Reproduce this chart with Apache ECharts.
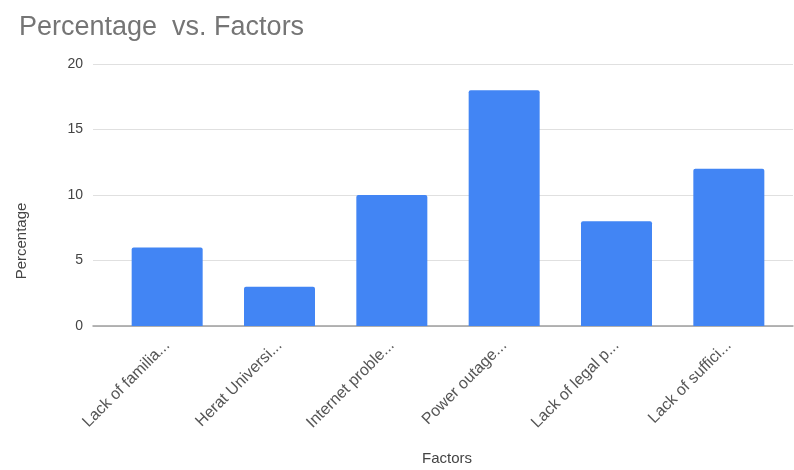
<!DOCTYPE html>
<html>
<head>
<meta charset="utf-8">
<script src="https://cdn.jsdelivr.net/npm/echarts@6/dist/echarts.min.js"></script>
<style>html,body{margin:0;padding:0;background:#fff}#c{width:794px;height:470px}</style>
</head>
<body>
<div id="c"></div>
<script>
const categories = ["Lack of familia...", "Herat Universi...", "Internet proble...", "Power outage...", "Lack of legal p...", "Lack of suffici..."];
const percentages = [6, 3, 10, 18, 8, 12];
const yTicks = { min: 0, max: 20, interval: 5 };

const FONT = "'Liberation Sans', Arial, sans-serif";
const chart = echarts.init(document.getElementById('c'), null, { renderer: 'canvas' });
chart.setOption({
  animation: false,
  backgroundColor: '#fff',
  title: {
    text: 'Percentage  vs. Factors',
    left: 14, top: 9,
    textStyle: { fontFamily: FONT, fontSize: 27, fontWeight: 'normal', color: '#757575' }
  },
  grid: [
    { left: 93, right: 1, top: 64, bottom: 144 },
    { left: 111, right: 9, top: 64, bottom: 144 }
  ],
  xAxis: [
    { type: 'category', gridIndex: 0, data: categories,
      axisLine: { lineStyle: { color: '#9e9e9e', width: 1.5 } },
      axisTick: { show: false }, axisLabel: { show: false } },
    { type: 'category', gridIndex: 1, data: categories,
      axisLine: { show: false }, axisTick: { show: false },
      axisLabel: { rotate: 45, margin: 17, fontFamily: FONT, fontSize: 16, color: '#555' } }
  ],
  yAxis: [
    { type: 'value', gridIndex: 0, min: yTicks.min, max: yTicks.max, interval: yTicks.interval,
      axisLine: { show: false }, axisTick: { show: false },
      axisLabel: { margin: 10, fontFamily: FONT, fontSize: 14, color: '#444' },
      splitLine: { lineStyle: { color: '#e0e0e0', width: 1 } } },
    { type: 'value', gridIndex: 1, min: yTicks.min, max: yTicks.max, interval: yTicks.interval,
      show: false, splitLine: { show: false } }
  ],
  series: [{
    type: 'bar', xAxisIndex: 1, yAxisIndex: 1,
    data: percentages, barWidth: 71,
    itemStyle: { color: '#4285f4', borderRadius: [2, 2, 0, 0] }
  }],
  graphic: [
    { type: 'text', x: 447, y: 451, style: { text: 'Factors', font: '15px ' + FONT, fill: '#444', align: 'center', verticalAlign: 'top' } },
    { type: 'text', x: 14, y: 241, rotation: Math.PI / 2,
      style: { text: 'Percentage', font: '15px ' + FONT, fill: '#444', align: 'center', verticalAlign: 'top' } }
  ]
});
</script>
</body>
</html>
